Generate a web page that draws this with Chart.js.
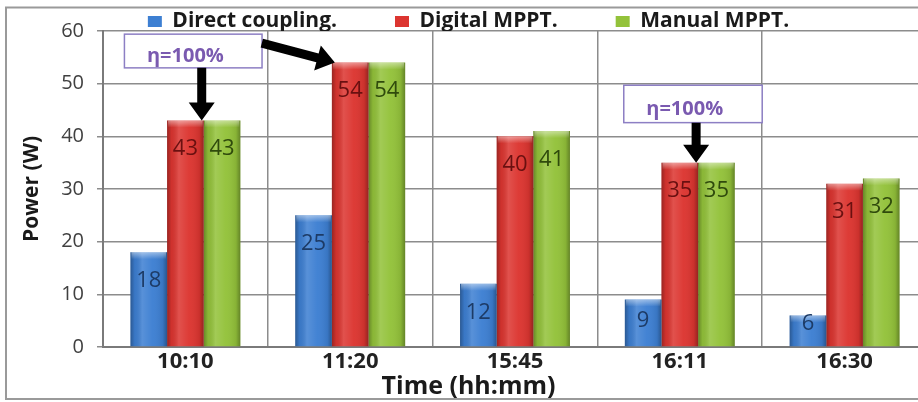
<!DOCTYPE html>
<html>
<head>
<meta charset="utf-8">
<script src="https://cdn.jsdelivr.net/npm/chart.js@4.4.1/dist/chart.umd.min.js"></script>
<style>
  html, body { margin: 0; padding: 0; background: #fff; width: 918px; height: 402px; overflow: hidden; }
  #wrap { position: relative; width: 918px; height: 402px; overflow: hidden; }
  #wrap canvas { position: absolute; left: 0; top: 0; }
</style>
</head>
<body>
<div id="wrap"><canvas id="chart" width="927" height="402"></canvas></div>
<script>
// Measurement times and output power (W) for each tracking method
const times = ['10:10', '11:20', '15:45', '16:11', '16:30'];
const directCoupling = [18, 25, 12, 9, 6];
const digitalMppt = [43, 54, 40, 35, 31];
const manualMppt = [43, 54, 41, 35, 32];
const seriesNames = ['Direct coupling.', 'Digital MPPT.', 'Manual MPPT.'];
const powerTicks = [0, 10, 20, 30, 40, 50, 60];
const efficiencyNote = 'η=100%';

const FONT = "'Open Sans'";

// Chart frame (left, top and bottom edges; the plot runs on past the right edge)
const framePlugin = {
  id: 'frame',
  beforeDraw(chart) {
    const ctx = chart.ctx;
    ctx.save();
    ctx.strokeStyle = '#9a9a9a';
    ctx.lineWidth = 2;
    ctx.strokeRect(6, 7.5, 1000, 391.5);
    ctx.restore();
  }
};

// Cylinder-like shading on bars and value labels inside the bar tops
const barDecor = {
  id: 'barDecor',
  afterDatasetsDraw(chart, args, opts) {
    const ctx = chart.ctx;
    ctx.save();
    chart.data.datasets.forEach((ds, di) => {
      const meta = chart.getDatasetMeta(di);
      meta.data.forEach((bar) => {
        const l = bar.x - bar.width / 2, r = bar.x + bar.width / 2;
        const t = bar.y, b = bar.base;
        const g = ctx.createLinearGradient(l, 0, r, 0);
        g.addColorStop(0, 'rgba(0,0,0,0.30)');
        g.addColorStop(0.12, 'rgba(0,0,0,0.06)');
        g.addColorStop(0.32, 'rgba(255,255,255,0.14)');
        g.addColorStop(0.6, 'rgba(255,255,255,0.03)');
        g.addColorStop(0.88, 'rgba(0,0,0,0.08)');
        g.addColorStop(1, 'rgba(0,0,0,0.32)');
        ctx.fillStyle = g;
        ctx.fillRect(l, t, r - l, b - t);
        const cap = ctx.createLinearGradient(0, t, 0, t + 7);
        cap.addColorStop(0, 'rgba(255,255,255,0.45)');
        cap.addColorStop(1, 'rgba(255,255,255,0)');
        ctx.fillStyle = cap;
        ctx.fillRect(l + 1, t, r - l - 2, 7);
      });
    });
    ctx.font = `${opts.size}px ${FONT}`;
    ctx.textAlign = 'center';
    ctx.textBaseline = 'middle';
    chart.data.datasets.forEach((ds, di) => {
      const meta = chart.getDatasetMeta(di);
      ctx.fillStyle = opts.colors[di];
      meta.data.forEach((bar, i) => {
        const h = bar.base - bar.y;
        const off = Math.min(28.5, 0.825 * h - 17);
        ctx.fillText(String(ds.data[i]), bar.x, bar.y + off);
      });
    });
    ctx.restore();
  }
};

// Efficiency call-outs with arrows pointing at bar tops
const notesPlugin = {
  id: 'notes',
  afterDatasetsDraw(chart, args, opts) {
    const ctx = chart.ctx;
    const xs = chart.scales.x, ys = chart.scales.y;
    const px = c => xs.getPixelForValue(c);
    const py = v => ys.getPixelForValue(v);
    ctx.save();
    opts.boxes.forEach(n => {
      const x0 = px(n.cat[0]), x1 = px(n.cat[1]);
      const y0 = py(n.val[0]), y1 = py(n.val[1]);
      ctx.fillStyle = '#ffffff';
      ctx.fillRect(x0, y0, x1 - x0, y1 - y0);
      ctx.strokeStyle = opts.borderColor;
      ctx.lineWidth = 1.5;
      ctx.strokeRect(x0, y0, x1 - x0, y1 - y0);
      ctx.fillStyle = opts.textColor;
      ctx.font = `bold ${opts.size}px ${FONT}`;
      ctx.textAlign = 'center';
      ctx.textBaseline = 'middle';
      ctx.fillText(n.text, px(n.textCat), py(n.textVal));
    });
    opts.arrows.forEach(a => {
      const bar = chart.getDatasetMeta(a.to.ds).data[a.to.idx];
      const tx = a.to.side === 'left' ? bar.x - bar.width / 2 + 3 : bar.x + bar.width / 2 - 2;
      const ty = bar.y;
      const sx = a.from.cat === undefined ? tx : px(a.from.cat);
      const sy = py(a.from.val);
      const dx = tx - sx, dy = ty - sy;
      const len = Math.hypot(dx, dy);
      const ux = dx / len, uy = dy / len;
      const nx = -uy, ny = ux;
      const hl = 18, hw = 13, sw = 4.5;
      const bx = tx - ux * hl, by = ty - uy * hl;
      ctx.fillStyle = '#000';
      ctx.beginPath();
      ctx.moveTo(sx + nx * sw, sy + ny * sw);
      ctx.lineTo(bx + nx * sw, by + ny * sw);
      ctx.lineTo(bx + nx * hw, by + ny * hw);
      ctx.lineTo(tx, ty);
      ctx.lineTo(bx - nx * hw, by - ny * hw);
      ctx.lineTo(bx - nx * sw, by - ny * sw);
      ctx.lineTo(sx - nx * sw, sy - ny * sw);
      ctx.closePath();
      ctx.fill();
    });
    ctx.restore();
  }
};

const gridColor = '#8c8c8c';

new Chart(document.getElementById('chart'), {
  type: 'bar',
  data: {
    labels: times,
    datasets: [
      { label: seriesNames[0], data: directCoupling, backgroundColor: '#3d7fd2' },
      { label: seriesNames[1], data: digitalMppt, backgroundColor: '#dc3530' },
      { label: seriesNames[2], data: manualMppt, backgroundColor: '#93c23a' }
    ]
  },
  options: {
    responsive: false,
    animation: false,
    devicePixelRatio: 1,
    datasets: { bar: { categoryPercentage: 0.667, barPercentage: 1.0, borderWidth: 0 } },
    layout: { padding: { top: -47, left: 10, right: 0, bottom: 0 } },
    plugins: {
      tooltip: { enabled: false },
      legend: {
        position: 'top',
        maxHeight: 78,
        labels: {
          boxWidth: 14, boxHeight: 11, padding: 58, color: '#1a1a1a',
          font: { family: FONT, size: 21, weight: 'bold' }
        }
      },
      title: {
        display: true,
        position: 'bottom',
        text: 'Time (hh:mm)',
        color: '#1a1a1a',
        font: { family: FONT, size: 25, weight: 'bold' },
        padding: { top: 0, bottom: 0 }
      },
      barDecor: { size: 22, colors: ['#1d3b66', '#6a1010', '#2f4a0c'] },
      notes: {
        size: 20,
        textColor: '#7a5ab0',
        borderColor: '#8d7fc4',
        boxes: [
          { text: efficiencyNote, cat: [-0.37, 0.465], val: [59.4, 53.0], textCat: 0.0, textVal: 55.2 },
          { text: efficiencyNote, cat: [2.66, 3.5], val: [49.7, 42.6], textCat: 3.03, textVal: 45.1 }
        ],
        arrows: [
          { from: { val: 53.0 }, to: { ds: 1, idx: 0, side: 'right' } },
          { from: { cat: 0.4636, val: 57.7 }, to: { ds: 1, idx: 1, side: 'left' } },
          { from: { val: 42.6 }, to: { ds: 1, idx: 3, side: 'right' } }
        ]
      }
    },
    scales: {
      x: {
        grid: { color: gridColor, lineWidth: 1.5, drawTicks: false, offset: true },
        border: { color: '#7a7a7a', width: 2 },
        ticks: { color: '#222', padding: 2, font: { family: FONT, size: 22, weight: 'bold' } },
        afterFit: s => { s.height = 25; }
      },
      y: {
        min: powerTicks[0],
        max: powerTicks[powerTicks.length - 1],
        afterBuildTicks: s => { s.ticks = powerTicks.map(v => ({ value: v })); },
        grid: { color: gridColor, lineWidth: 1.5, tickLength: 6 },
        border: { color: '#7a7a7a', width: 2 },
        ticks: { color: '#404040', padding: 13, font: { family: FONT, size: 20 } },
        title: {
          display: true, text: 'Power (W)', color: '#1a1a1a',
          font: { family: FONT, size: 21, weight: 'bold' },
          padding: { top: 9, bottom: 0 }
        },
        afterFit: s => { s.width = 93; }
      }
    }
  },
  plugins: [framePlugin, barDecor, notesPlugin]
});
</script>
</body>
</html>
